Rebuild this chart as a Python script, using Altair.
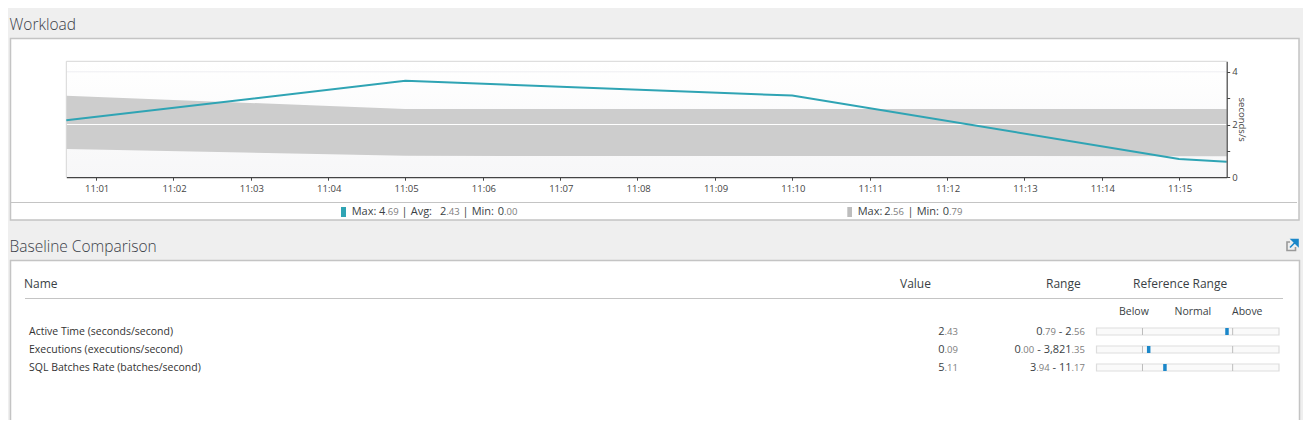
import re
import altair as alt
import pandas as pd

# ---- data (x = minutes past 11:00) ----
line_minutes = [0.617, 5, 10, 15, 15.617]
line_values = [2.16, 3.66, 3.10, 0.69, 0.59]
band_minutes = [0.617, 5, 15.617]
band_upper = [3.09, 2.59, 2.59]
band_lower = [1.07, 0.81, 0.80]
x_ticks = list(range(1, 16))
y_ticks = [0, 1, 2, 3, 4]
grid_white = [2]
grid_light = [4]
row_names = ["Active Time (seconds/second)", "Executions (executions/second)", "SQL Batches Rate (batches/second)"]
row_values = ["2.43", "0.09", "5.11"]
row_ranges = ["0.79 - 2.56", "0.00 - 3,821.35", "3.94 - 11.17"]
row_marker_pct = [71.5, 28.6, 37.5]
row_low_pct = [25.2, 25.2, 25.2]
row_high_pct = [74.6, 74.6, 74.6]

# ---- layout (reference pixel coordinates) ----
W, H = 1295, 412
OX = 8
PL, PR, PT, PB = 66.3, 1226.7, 61.3, 177.2
TEAL, BAND, INK, DIM = "#2fa4b4", "#cdcdcd", "#3a3f45", "#7d7d7d"
FONT = "Open Sans"

one = alt.Data(values=[{}])


def box(x1, y1, x2, y2, fill="#ffffff", stroke=None, sw=1):
    kw = dict(fill=fill)
    if stroke:
        kw.update(stroke=stroke, strokeWidth=sw)
    return alt.Chart(one).mark_rect(**kw).encode(
        x=alt.value(x1 - OX), x2=alt.value(x2 - OX), y=alt.value(y1 - OX), y2=alt.value(y2 - OX))


def hline(x1, x2, y, color="#c4c4c4", sw=1):
    return alt.Chart(one).mark_rule(color=color, strokeWidth=sw).encode(
        x=alt.value(x1 - OX), x2=alt.value(x2 - OX), y=alt.value(y - OX))


xs = alt.Scale(domain=[0.617, 15.617], range=[PL - OX, PR - OX], nice=False, zero=False)
ys = alt.Scale(domain=[0, 4.4], range=[PB - OX, PT - OX], nice=False, zero=False)
X = lambda f, **k: alt.X(f, scale=xs, title=None, **k)
Y = lambda f, **k: alt.Y(f, scale=ys, title=None, **k)

band_df = pd.DataFrame({"t": band_minutes, "hi": band_upper, "lo": band_lower})
line_df = pd.DataFrame({"t": line_minutes, "v": line_values})

gradient = alt.Gradient(gradient="linear", x1=0, x2=0, y1=0, y2=1,
                        stops=[alt.GradientStop(color="#ffffff", offset=0),
                               alt.GradientStop(color="#f7f7f8", offset=1)])
plot_bg = alt.Chart(one).mark_rect(color=gradient).encode(
    x=alt.value(PL - OX), x2=alt.value(PR - OX), y=alt.value(PT - OX), y2=alt.value(PB - OX))

band = alt.Chart(band_df).mark_area(color=BAND, opacity=1).encode(
    x=X("t:Q", axis=None), y=Y("lo:Q", axis=None), y2="hi:Q")
g_white = alt.Chart(pd.DataFrame({"g": grid_white})).mark_rule(color="#ffffff", strokeWidth=1).encode(
    y=Y("g:Q", axis=None), x=alt.value(PL - OX), x2=alt.value(PR - OX))
g_light = alt.Chart(pd.DataFrame({"g": grid_light})).mark_rule(color="#eeeef2", strokeWidth=1).encode(
    y=Y("g:Q", axis=None), x=alt.value(PL - OX), x2=alt.value(PR - OX))

axis_common = dict(domainColor="#444444", tickColor="#444444", labelColor="#444444", labelFont=FONT,
                   grid=False, zindex=1, domainWidth=1.2, tickWidth=1)
series = alt.Chart(line_df).mark_line(color=TEAL, strokeWidth=2).encode(
    x=X("t:Q", axis=alt.Axis(values=x_ticks,
                             labelExpr="'11:' + (datum.value < 10 ? '0' : '') + datum.value",
                             offset=PB - OX - H, orient="bottom", labelFontSize=9.5, tickSize=3,
                             labelPadding=3, labelOffset=0.7, labelFlush=False, labelOverlap=False,
                             **axis_common)),
    y=Y("v:Q", axis=alt.Axis(values=y_ticks, labelExpr="datum.value % 2 == 0 ? datum.label : ''",
                             orient="right", offset=PR - OX - W, labelFontSize=9.5, tickSize=3,
                             labelPadding=2, title="seconds/s", titleFont=FONT, titleFontSize=9.5,
                             titleFontWeight="normal", titleColor="#444444", titlePadding=-1,
                             labelFlush=False, **axis_common)))

# ---- text, split in the large integer part and small decimals ----
CHAR = {".": .27, ",": .25, "-": .33, " ": .26}


def width(s, size):
    return sum(CHAR.get(c, .572) for c in s) * size


def parts(s):
    out = []
    for p in re.findall(r"\.\d+|\s+|[^\s.]+", s):
        out.append((p, p.startswith(".")))
    return out


spans = []


def add(t, x, y, size=11, color=INK):
    spans.append(dict(t=t, px=x - OX, py=y - OX, s=size, c=color))


def right_number(s, right, y):
    x = right
    for p, small in reversed(parts(s)):
        size = 9.5 if small else 11
        x -= width(p, size)
        if p.strip():
            add(p, x, y, size, DIM if small else INK)


def left_number(s, left, y):
    x = left
    for p, small in parts(s):
        size = 9.5 if small else 11
        add(p, x, y, size, DIM if small else INK)
        x += width(p, size)


LY = 212
for label, x in [("Max:", 351.7), ("Avg:", 410.7), ("Min:", 471.7), ("Max:", 857.7), ("Min:", 916.7)]:
    add(label, x, LY)
for num, x in [("4.69", 379), ("2.43", 440), ("0.00", 497.7), ("2.56", 884.3), ("0.79", 942.7)]:
    left_number(num, x, LY)
for x in [401.5, 462.5, 907.5]:
    add("|", x, LY)

row_y = [332, 350, 368]
for n, v, r, y in zip(row_names, row_values, row_ranges, row_y):
    add(n, 29, y, 10.5, "#333333")
    right_number(v, 958, y)
    right_number(r, 1085, y)

add("Name", 24, 284, 12)
add("Value", 900, 284, 12)
add("Range", 1046, 284, 12)
add("Reference Range", 1133, 284, 12)
add("Below", 1119, 311.5, 10.5)
add("Normal", 1174.5, 311.5, 10.5)
add("Above", 1232, 311.5, 10.5)

text_layer = alt.Chart(alt.Data(values=spans)).mark_text(align="left", baseline="middle", font=FONT).encode(
    x=alt.X("px:Q", scale=None, axis=None), y=alt.Y("py:Q", scale=None, axis=None), text="t:N",
    size=alt.Size("s:Q", scale=None), color=alt.Color("c:N", scale=None))

titles = alt.Chart(alt.Data(values=[dict(t="Workload", py=25 - OX), dict(t="Baseline Comparison", py=247 - OX)])).mark_text(
    align="left", baseline="middle", font=FONT, fontSize=15.5, fontWeight=300, color="#3a4048").encode(
    x=alt.value(9.5 - OX), y=alt.Y("py:Q", scale=None, axis=None), text="t:N")

# ---- reference range bars ----
rows_df = pd.DataFrame({"name": row_names, "m": row_marker_pct, "lo": row_low_pct, "hi": row_high_pct,
                        "a": [0] * 3, "b": [100] * 3})
px = alt.Scale(domain=[0, 100], range=[1096.5 - OX, 1279 - OX], nice=False, zero=False)
py = alt.Scale(type="point", domain=row_names, range=[331.5 - OX, 367.5 - OX], padding=0)
RX = lambda f: alt.X(f, scale=px, axis=None)
RY = alt.Y("name:N", scale=py, axis=None)
track = alt.Chart(rows_df).mark_rect(height=7, fill="#fafafa", stroke="#dddddd", strokeWidth=1.2).encode(
    x=RX("a:Q"), x2="b:Q", y=RY)
low = alt.Chart(rows_df).mark_rect(width=1, height=7, color="#bdbdbd").encode(x=RX("lo:Q"), y=RY)
high = alt.Chart(rows_df).mark_rect(width=1, height=7, color="#bdbdbd").encode(x=RX("hi:Q"), y=RY)
marker = alt.Chart(rows_df).mark_rect(width=3.5, height=7, color="#1b87c9").encode(x=RX("m:Q"), y=RY)

# ---- icon ----
icon_box = box(1287, 242, 1295.5, 250.5, fill="#efefef", stroke="#9a9a9a", sw=1.6)
icon_gap = box(1290, 239, 1298.5, 247, fill="#efefef")
icon_arrow = alt.Chart(one).mark_point(shape="M-1,1L0.8,-0.8M-0.6,-1L1,-1L1,0.6Z", filled=True, fill="#1b87c9",
                                       stroke="#1b87c9", strokeWidth=1.6, size=64, opacity=1).encode(
    x=alt.value(1294 - OX), y=alt.value(243.5 - OX))

chart = alt.layer(
    box(10.5, 38.5, 1299, 220, stroke="#c4c4c4", sw=1.5),
    hline(11, 1297, 202.5),
    box(10.5, 260.5, 1299.5, 440, stroke="#c4c4c4", sw=1.5),
    hline(25, 1283, 298.5),
    plot_bg,
    band,
    g_white,
    g_light,
    hline(PL, PR, PT, "#d6d6d6", 1),
    alt.Chart(one).mark_rule(color="#d6d6d6").encode(x=alt.value(PL - OX), y=alt.value(PT - OX), y2=alt.value(PB - OX)),
    series,
    box(341, 207, 346, 217, fill=TEAL),
    box(847.3, 207, 852, 217, fill="#bdbdbd"),
    track, low, high, marker,
    icon_box, icon_gap, icon_arrow,
    text_layer, titles,
).resolve_scale(x="independent", y="independent").properties(
    width=W, height=H, background="#efefef", padding=0, autosize=alt.AutoSizeParams(type="none")
).configure_view(stroke=None)

chart.save("out.html", embed_options={"renderer": "svg", "actions": False})
